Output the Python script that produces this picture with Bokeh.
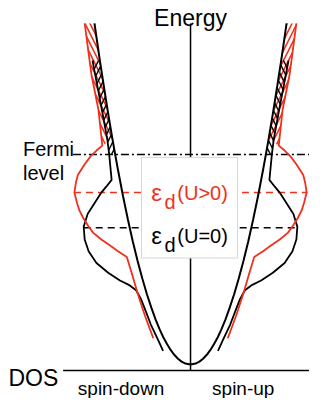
import numpy as np
from bokeh.plotting import figure
from bokeh.models import Range1d
from bokeh.core.properties import value
from bokeh.embed import file_html
from bokeh.resources import INLINE

# ---- data (arbitrary units: energy above band bottom, DOS per spin) ----
# free-electron-like s band (same for both spins)
E_S = [0, 1, 3, 6, 10, 15, 21, 28, 36, 46, 58, 72, 88, 106, 126, 148, 172, 198,
       215, 231, 256, 285, 311, 331, 349]
D_S = [0, 5.2, 9.1, 12.8, 16.6, 20.3, 24.0, 27.8, 31.5, 35.6, 39.9, 44.5, 49.2,
       54.0, 58.9, 63.8, 68.8, 73.8, 76.9, 79.7, 83.9, 88.5, 92.5, 95.4, 98.0]

# total DOS, U = 0 (black)
E_U0 = [14, 25, 41, 58, 67, 76, 81, 86, 94, 104, 116, 128, 141, 154, 165, 176,
        182, 189, 215, 231, 261, 311]
D_U0 = [28, 33, 40.5, 47, 50.5, 55.5, 62, 72, 84, 96, 104, 108, 109, 105, 98,
        91, 86, 80.5, 83, 85, 90.5, 100]

# total DOS, U > 0 (red)
E_U1 = [27, 50, 73, 92, 110, 116, 121, 128, 135, 142, 150, 158, 166, 176, 186,
        194, 205, 213, 219, 224, 261, 296, 349]
D_U1 = [38, 46.5, 54, 59.5, 65, 74, 81, 91, 99.5, 104.5, 109.5, 113.5, 116,
        118.5, 117, 115, 108, 102, 96, 90, 94, 101, 108]

E_FERMI = 215
E_D_U0 = 140
E_D_U1 = 176
PEAK_U0 = 109
PEAK_U1 = 119

RED = "#f0301c"
FONT = value("Liberation Sans")

p = figure(width=309, height=398, output_backend="svg", toolbar_location=None,
           x_range=Range1d(-193.9, 121.4), y_range=Range1d(-34.7, 372.5),
           x_axis_type=None, y_axis_type=None, min_border=0)
p.grid.visible = False
p.outline_line_color = None
p.background_fill_color = "white"
p.border_fill_color = "white"

es, ds = np.array(E_S, float), np.array(D_S, float)
e0, d0 = np.array(E_U0, float), np.array(D_U0, float)
e1, d1 = np.array(E_U1, float), np.array(D_U1, float)

# ---- hatched occupied regions ----
m1 = e1 >= 224
ms1 = es >= 224
hx_r = np.concatenate([d1[m1], ds[ms1][::-1]])
hy_r = np.concatenate([e1[m1], es[ms1][::-1]])
m0 = (e0 >= E_FERMI) & (e0 <= 311)
ms0 = (es >= E_FERMI) & (es <= 311)
hx_b = np.concatenate([d0[m0], ds[ms0][::-1]])
hy_b = np.concatenate([e0[m0], es[ms0][::-1]])

for sgn, pr, pb in [(1, "/", "\\"), (-1, "\\", "/")]:
    p.patch(sgn * hx_r, hy_r, fill_color=None, line_color=None,
            hatch_pattern=pr, hatch_color=RED, hatch_weight=1.6, hatch_scale=10)
    p.patch(sgn * hx_b, hy_b, fill_color=None, line_color=None,
            hatch_pattern=pb, hatch_color="black", hatch_weight=1.4, hatch_scale=10)

# ---- axes ----
p.line([0, 0], [-6, 349], line_color="black", line_width=1.5)
p.line([-130, 125], [-6, -6], line_color="black", line_width=1.5)

# ---- reference levels ----
p.line([-120, 125], [E_FERMI, E_FERMI], line_color="black", line_width=1.5,
       line_dash="8 3 2 3")
p.line([-PEAK_U1, PEAK_U1], [E_D_U1, E_D_U1], line_color=RED, line_width=1.5,
       line_dash="7 5")
p.line([-PEAK_U0, PEAK_U0], [E_D_U0, E_D_U0], line_color="black", line_width=1.5,
       line_dash="7 5")

# ---- DOS curves ----
p.line(np.concatenate([-ds[::-1], ds[1:]]), np.concatenate([es[::-1], es[1:]]),
       line_color="black", line_width=2)
for sgn in (1, -1):
    p.line(sgn * d0, e0, line_color="black", line_width=1.8)
    p.line(sgn * d1, e1, line_color=RED, line_width=1.8)

# ---- legend box ----
p.quad(left=-50, right=48, bottom=109, top=212, fill_color="white",
       line_color="#d6d6d6", line_width=1)

def txt(x, y, s, size, color="black", align="left", baseline="alphabetic"):
    p.text(x=[x], y=[y], text=[s], text_font=FONT, text_font_size=size,
           text_color=color, text_align=align, text_baseline=baseline)

txt(-40, 176, "ε", "24px", RED)
txt(-26.5, 166, "d", "20px", RED)
txt(-13.5, 176, "(U>0)", "20px", RED)
txt(-40, 132, "ε", "24px")
txt(-26.5, 122, "d", "20px")
txt(-13.5, 132, "(U=0)", "20px")

txt(0, 355, "Energy", "23px", align="center")
txt(-135, -14.2, "DOS", "23px", align="right")
txt(-115, -24.4, "spin-down", "19px")
txt(22, -24.4, "spin-up", "19px")
txt(-171, 221, "Fermi", "20px")
txt(-171, 196, "level", "20px")

open("out.html", "w").write(file_html(p, INLINE))
